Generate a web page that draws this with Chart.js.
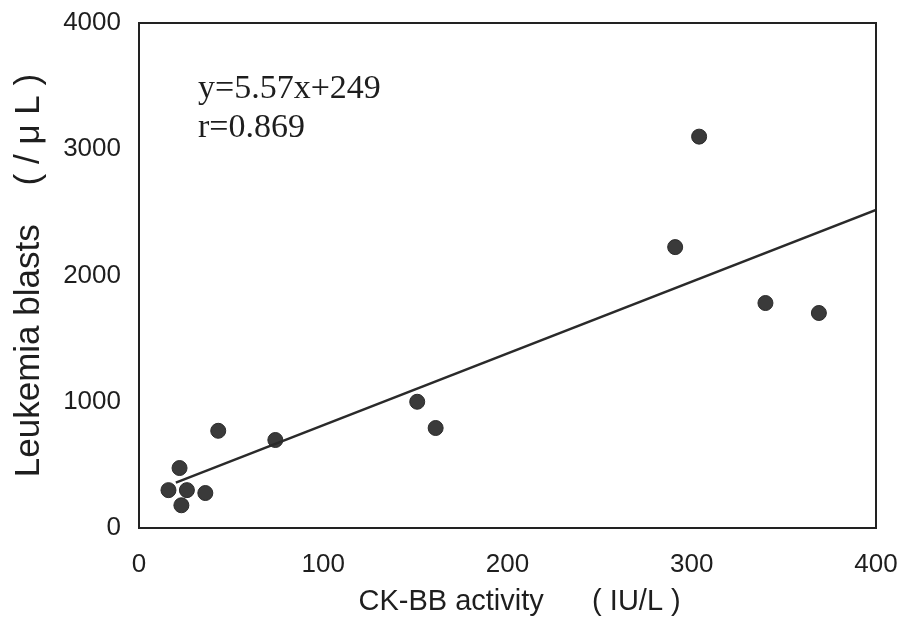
<!DOCTYPE html>
<html>
<head>
<meta charset="utf-8">
<script src="https://cdn.jsdelivr.net/npm/chart.js@4.4.1/dist/chart.umd.min.js"></script>
<style>
  html, body { margin: 0; padding: 0; background: #fff; }
  #wrap { width: 906px; height: 636px; }
</style>
</head>
<body>
<div id="wrap"><canvas id="c" width="906" height="636"></canvas></div>
<script>
// CK-BB activity (IU/L) vs leukemia blasts (/uL)
var ckbb   = [16, 22, 23, 26, 36, 43, 74, 151, 161, 291, 304, 340, 369];
var blasts = [300, 475, 180, 300, 277, 770, 697, 1000, 792, 2225, 3100, 1782, 1703];

// fitted line, read at both ends
var fitX = [20, 400];
var fitY = [360, 2520];

var xTicks = [0, 100, 200, 300, 400];
var yTicks = [0, 1000, 2000, 3000, 4000];

var fitText = ['y=5.57x+249', 'r=0.869'];

var points = ckbb.map(function (x, i) { return { x: x, y: blasts[i] }; });
var line = fitX.map(function (x, i) { return { x: x, y: fitY[i] }; });

var ink = '#1e1e1e';
var plain = function (v) { return String(v); };

new Chart(document.getElementById('c'), {
  type: 'scatter',
  data: {
    datasets: [
      {
        type: 'line',
        data: line,
        borderColor: '#2a2a2a',
        borderWidth: 2.5,
        pointRadius: 0,
        fill: false
      },
      {
        data: points,
        backgroundColor: '#3a3a3a',
        borderColor: '#2a2a2a',
        borderWidth: 1,
        pointRadius: 7.5,
        pointHoverRadius: 7.5
      }
    ]
  },
  options: {
    responsive: false,
    animation: false,
    layout: { padding: { left: 0, right: 30, top: 23, bottom: 0 } },
    plugins: { legend: { display: false }, tooltip: { enabled: false } },
    scales: {
      x: {
        type: 'linear',
        min: 0, max: 400,
        afterBuildTicks: function (s) { s.ticks = xTicks.map(function (v) { return { value: v }; }); },
        afterFit: function (s) { s.height = 108; s.paddingLeft = 0; s.paddingRight = 0; },
        grid: { display: false, drawTicks: false },
        border: { display: false },
        ticks: { color: ink, padding: 21, maxRotation: 0, callback: plain, font: { family: 'Liberation Sans', size: 26 } },
        title: {
          display: true,
          text: '   CK-BB activity      ( IU/L )',
          color: ink,
          font: { family: 'Liberation Sans', size: 29 },
          padding: { top: 0, bottom: 17 }
        }
      },
      y: {
        type: 'linear',
        min: 0, max: 4000,
        afterBuildTicks: function (s) { s.ticks = yTicks.map(function (v) { return { value: v }; }); },
        afterFit: function (s) { s.width = 139; s.paddingTop = 0; s.paddingBottom = 0; },
        grid: { display: false, drawTicks: false },
        border: { display: false },
        ticks: { color: ink, padding: 18, callback: plain, font: { family: 'Liberation Sans', size: 26 } },
        title: {
          display: true,
          text: 'Leukemia blasts    ( / μ L )',
          color: ink,
          font: { family: 'Liberation Sans', size: 35 },
          padding: { top: 8, bottom: 0 }
        }
      }
    }
  },
  plugins: [{
    id: 'frameAndText',
    afterDatasetsDraw: function (chart) {
      var a = chart.chartArea;
      var ctx = chart.ctx;
      ctx.save();
      ctx.strokeStyle = '#222';
      ctx.lineWidth = 2;
      ctx.strokeRect(a.left, a.top, a.right - a.left, a.bottom - a.top);
      ctx.fillStyle = ink;
      ctx.font = '34px "Liberation Serif"';
      ctx.textAlign = 'left';
      ctx.textBaseline = 'alphabetic';
      ctx.fillText(fitText[0], a.left + 59, 98);
      ctx.fillText(fitText[1], a.left + 59, 137);
      ctx.restore();
    }
  }]
});
</script>
</body>
</html>
